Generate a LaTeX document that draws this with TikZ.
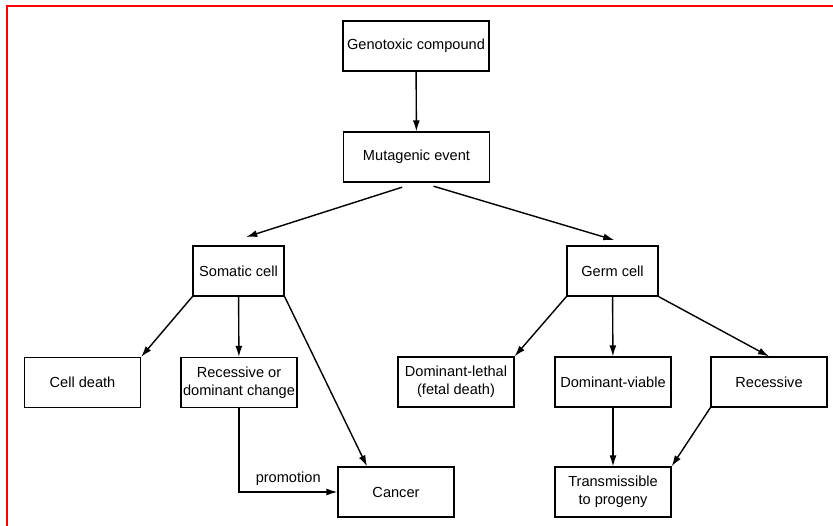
\documentclass[tikz,border=0pt]{standalone}
\usepackage{fontspec}
\setmainfont{Liberation Sans}
\usepackage{tikz}
\usetikzlibrary{arrows.meta, positioning, calc}
\tikzset{
  box/.style   = {rectangle, draw, line width=0.7pt, minimum width=2.32cm,
                  minimum height=1.0cm, align=center, inner sep=1pt,
                  font=\fontsize{8.3}{10}\selectfont},
  boxW/.style  = {box, minimum width=2.92cm},
  boxS/.style  = {box, minimum width=1.82cm},
  arrow/.style = {line width=0.8pt, -{Latex[length=2.2mm, width=1.4mm]}},
}

\begin{document}
\begin{tikzpicture}

    \useasboundingbox (0,0) rectangle (16.66,-10.52);

    %% frame (top and left edge only)
    \draw[red, line width=1.2pt] (0.14,-10.52) -- (0.14,-0.12) -- (16.66,-0.12);

    %% top of the chain
    \node[boxW] (geno) at (8.32,-0.92) {Genotoxic compound};
    \node[boxW] (muta) at (8.33,-3.14) {Mutagenic event};

    %% cell types
    \node[boxS] (soma) at (4.77,-5.42)  {Somatic cell};
    \node[boxS] (germ) at (12.25,-5.42) {Germ cell};

    %% outcomes
    \node[box] (death)  at (1.65,-7.65)  {Cell death};
    \node[box] (recdom) at (4.78,-7.65)  {Recessive or\\dominant change};
    \node[box] (lethal) at (9.12,-7.64)  {Dominant-lethal\\(fetal death)};
    \node[box] (viable) at (12.26,-7.64) {Dominant-viable};
    \node[box] (reces)  at (15.38,-7.64) {Recessive};

    %% end points
    \node[box] (cancer) at (7.92,-9.84)  {Cancer};
    \node[box] (trans)  at (12.26,-9.84) {Transmissible\\to progeny};

    %% Connections
    \draw[arrow] (geno) -- (muta);
    \draw[arrow, shorten <=0.3cm, shorten >=0.55cm] (muta.south) -- ([xshift=-0.37cm]soma.north);
    \draw[arrow, shorten <=0.25cm, shorten >=0.37cm] ([xshift=0.1cm]muta.south) -- ([xshift=0.39cm]germ.north);

    \draw[arrow] (soma.south west) -- (death.north east);
    \draw[arrow] (soma) -- (recdom);
    \draw[arrow] (soma.south east) -- ([xshift=-0.58cm]cancer.north);
    \draw[arrow] (recdom.south) |- node[pos=0.75, above, font=\fontsize{8.3}{10}\selectfont] {promotion} (cancer.west);

    \draw[arrow] (germ.south west) -- (lethal.north east);
    \draw[arrow] (germ) -- (viable);
    \draw[arrow] (germ.south east) -- (reces.north);
    \draw[arrow] (viable) -- (trans);
    \draw[arrow] (reces.south west) -- (trans.north east);

  \end{tikzpicture}
\end{document}
